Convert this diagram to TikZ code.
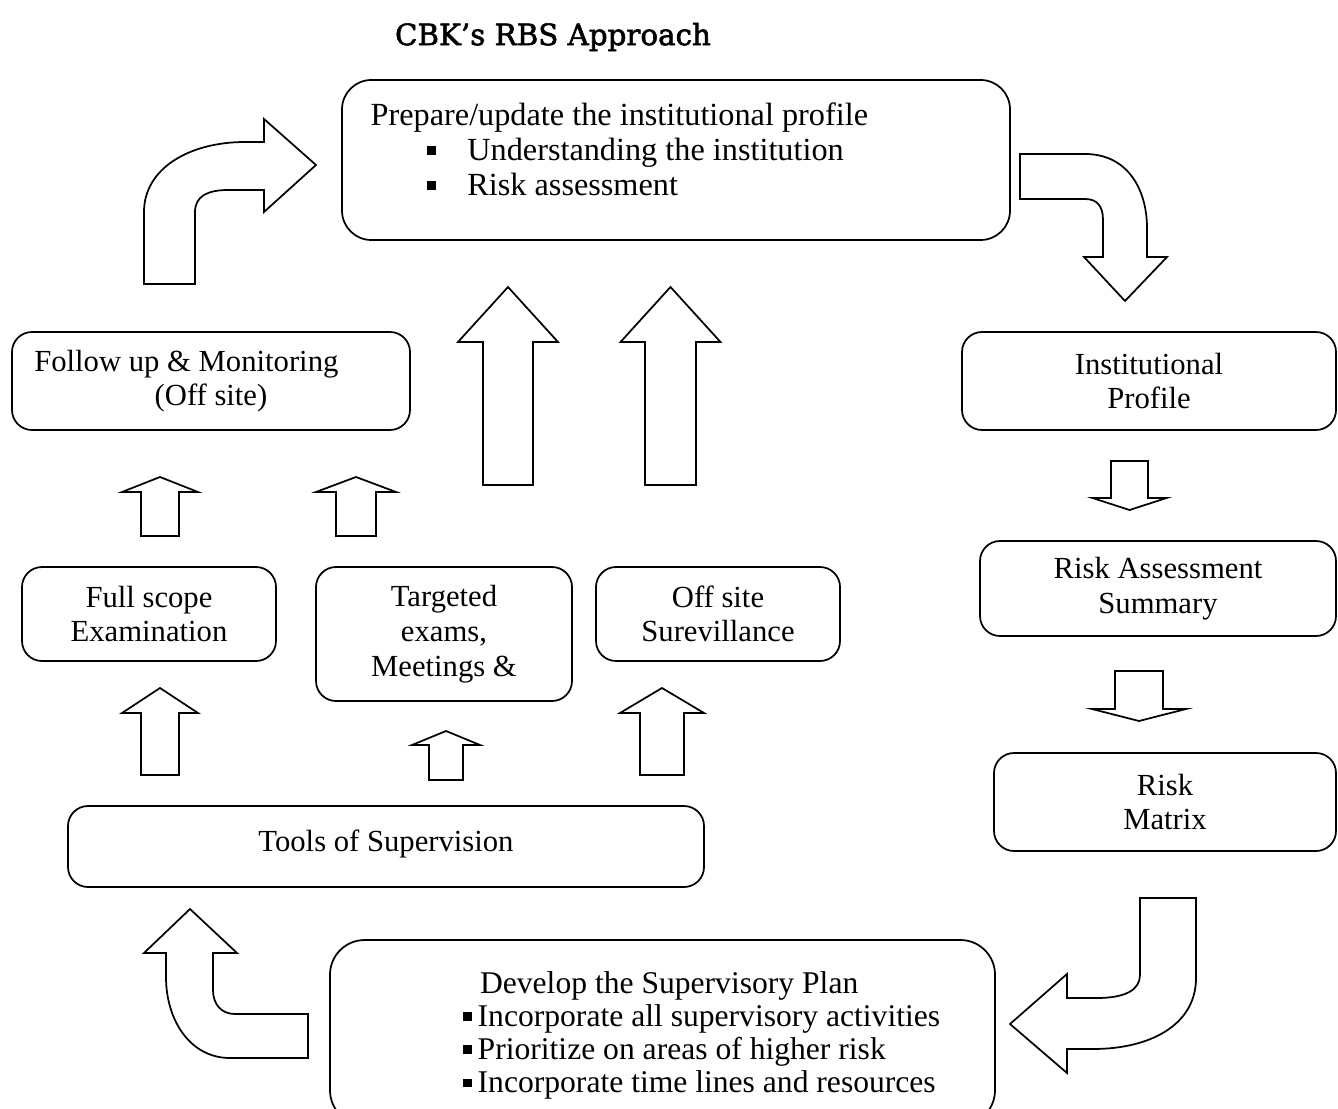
\documentclass[tikz,border=0pt]{standalone}
\usepackage{fontspec}
\setmainfont{Liberation Serif}
\newfontfamily\titlefont[FakeBold=2]{DejaVu Serif}
\usetikzlibrary{positioning}

\newcommand{\bull}{\rule[0.17em]{0.28em}{0.28em}}
% straight block arrow: centre x, tip y, head base y, tail y, half head, half shaft
\newcommand{\blockarrow}[6]{%
  \draw[arrowshape] (#1,#2) -- ({#1+#5},#3) -- ({#1+#6},#3) -- ({#1+#6},#4)
    -- ({#1-#6},#4) -- ({#1-#6},#3) -- ({#1-#5},#3) -- cycle;}

\tikzset{
  box/.style={draw, line width=1.3pt, rounded corners=15pt, align=center, inner sep=0pt},
  arrowshape/.style={draw, line width=1.3pt, line join=miter, fill=white},
}

\begin{document}
\begin{tikzpicture}[x=0.75pt,y=-0.75pt,line join=round,
  every node/.style={font=\fontsize{23}{26}\selectfont}]
  \useasboundingbox (0,0) rectangle (1338,1109);

  \node[font=\titlefont\fontsize{22}{26}\selectfont] (title) at (553,37) {CBK’s RBS Approach};

  % profile cycle, top and right
  \node[box, rounded corners=22pt, minimum width=501pt, minimum height=120pt] (prof) at (676,160) {};
  \node[anchor=base west, font=\fontsize{24.2}{26}\selectfont] (proftxt) at (366,126) {\begin{tabular}[t]{@{}l@{}}
      Prepare/update the institutional profile\\
      \hspace*{42pt}\makebox[30.5pt][l]{\bull}Understanding the institution\\
      \hspace*{42pt}\makebox[30.5pt][l]{\bull}Risk assessment
    \end{tabular}};
  \node[box, minimum width=280.5pt, minimum height=73.5pt] (inst) at (1149,381) {Institutional\\Profile};
  \node[box, minimum width=267pt, minimum height=71.25pt] (ras) at (1158,588.5) {Risk Assessment\\Summary};
  \node[box, minimum width=256.5pt, minimum height=73.5pt] (matrix) at (1165,802) {Risk\\Matrix};

  % plan and tools
  \node[box, rounded corners=26pt, minimum width=498.75pt, minimum height=138.75pt] (plan) at (662.5,1032.5) {};
  \node[anchor=base west, font=\fontsize{23.7}{26}\selectfont] (plantxt) at (458,993) {\renewcommand{\arraystretch}{0.96}%
    \begin{tabular}[t]{@{}l@{}}
      \hspace*{13pt}Develop the Supervisory Plan\\
      \makebox[11.25pt][l]{\bull}Incorporate all supervisory activities\\
      \makebox[11.25pt][l]{\bull}Prioritize on areas of higher risk\\
      \makebox[11.25pt][l]{\bull}Incorporate time lines and resources
    \end{tabular}};
  \node[box, minimum width=477pt, minimum height=60.75pt, text depth=9pt] (tools) at (386,846.5) {Tools of Supervision};
  \node[box, minimum width=190.5pt, minimum height=70.5pt] (full) at (149,614) {Full scope\\Examination};
  \node[box, minimum width=192pt, minimum height=100.5pt] (target) at (444,634) {Targeted\\exams,\\Meetings \&};
  \node[box, minimum width=183pt, minimum height=70.5pt] (offsite) at (718,614) {Off site\\Surevillance};
  \node[box, minimum width=298.5pt, minimum height=73.5pt] (follow) at (211,381) {Follow up \& Monitoring\hspace*{37pt}\\(Off site)};

  % straight block arrows
  \blockarrow{160}{477}{492}{536}{38}{19}
  \blockarrow{356}{477}{492}{536}{40}{20}
  \blockarrow{508}{287}{342}{485}{50}{25}
  \blockarrow{670.5}{287}{342}{485}{50}{25.5}
  \blockarrow{160}{688}{713}{775}{38}{19}
  \blockarrow{446}{731}{745}{780}{34}{17}
  \blockarrow{662}{688}{713}{775}{42}{22}
  \blockarrow{1129.5}{510}{498}{461}{37}{18.5}
  \blockarrow{1139}{721}{709}{671}{47}{24}

  % curved block arrows
  \draw[arrowshape] (144,284) -- (144,212) .. controls (144,168) and (190,142) .. (245,142)
    -- (264,142) -- (264,119) -- (316,165) -- (264,212) -- (264,190) -- (228,190)
    .. controls (208,190) and (195,196) .. (195,212) -- (195,284) -- cycle;
  \draw[arrowshape] (1020,154) -- (1085,154) .. controls (1128,154) and (1147,190) .. (1147,228)
    -- (1147,257) -- (1167,257) -- (1125,301) -- (1084,257) -- (1103,257) -- (1103,220)
    .. controls (1103,206) and (1097,199) .. (1085,199) -- (1020,199) -- cycle;
  \draw[arrowshape] (1140,898) -- (1196,898) -- (1196,978) .. controls (1196,1025) and (1150,1049) .. (1093,1049)
    -- (1067,1049) -- (1067,1073) -- (1010,1024) -- (1067,974) -- (1067,998) -- (1097,998)
    .. controls (1125,998) and (1140,990) .. (1140,975) -- cycle;
  \draw[arrowshape] (308,1014) -- (308,1058) -- (230,1058) .. controls (190,1058) and (166,1020) .. (166,977)
    -- (166,953) -- (144,953) -- (190,909) -- (237,953) -- (213,953) -- (213,990)
    .. controls (213,1005) and (222,1014) .. (235,1014) -- cycle;
\end{tikzpicture}
\end{document}
